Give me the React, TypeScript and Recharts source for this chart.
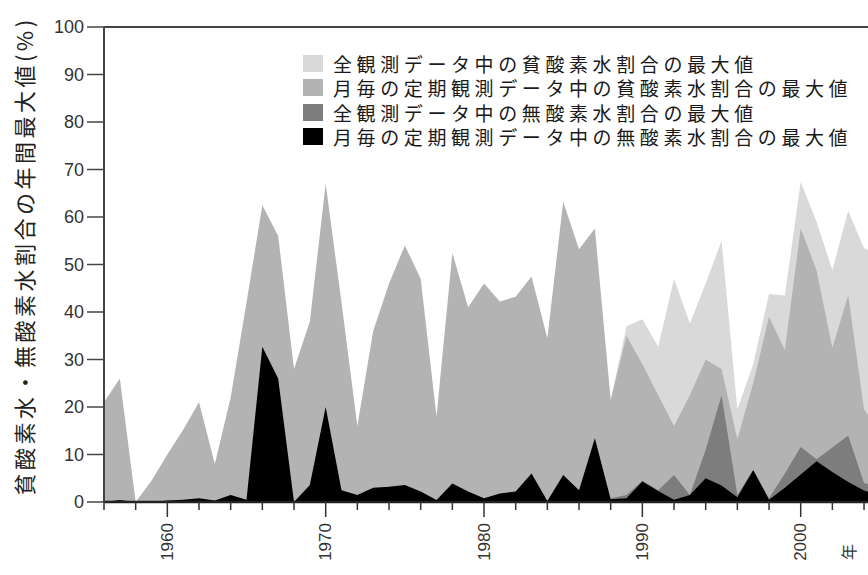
import { AreaChart, Area, XAxis, YAxis, Legend, ReferenceLine, Label } from 'recharts';

const years = [
  1956, 1957, 1958, 1959, 1960, 1961, 1962, 1963, 1964, 1965,
  1966, 1967, 1968, 1969, 1970, 1971, 1972, 1973, 1974, 1975,
  1976, 1977, 1978, 1979, 1980, 1981, 1982, 1983, 1984, 1985,
  1986, 1987, 1988, 1989, 1990, 1991, 1992, 1993, 1994, 1995,
  1996, 1997, 1998, 1999, 2000, 2001, 2002, 2003, 2004, 2005,
];

// 全観測データ中の貧酸素水割合の最大値
const allHypoxic = [
  null, null, null, null, null, null, null, null, null, null,
  null, null, null, null, null, null, null, null, null, null,
  null, null, null, null, null, null, null, null, null, null,
  null, null, 21.5, 37, 38.5, 32.7, 47, 37.6, 46, 55,
  19.5, 29, 43.8, 43.5, 67.4, 59, 48.8, 61.3, 53.4, 52,
];

// 月毎の定期観測データ中の貧酸素水割合の最大値
const monthlyHypoxic = [
  21, 26, 0, 4.5, 10, 15.2, 21, 8, 22, 42,
  62.5, 56, 28, 38, 67, 42, 16, 36, 46, 54,
  47, 18, 52.4, 41, 46, 42.2, 43.2, 47.5, 34.5, 63.2,
  53.2, 57.6, 21.5, 35, 29, 22.5, 16, 22.5, 30, 28,
  13.2, 25, 39, 32, 57.6, 48.8, 32.4, 43.6, 19.5, 15,
];

// 全観測データ中の無酸素水割合の最大値
const allAnoxic = [
  null, null, null, null, null, null, null, null, null, null,
  null, null, null, null, null, null, null, null, null, null,
  null, null, null, null, null, null, null, null, null, null,
  null, null, 0.8, 1.5, 4.5, 2.5, 5.7, 1.5, 11, 22.5,
  1.5, 6.8, 0.8, 6, 11.6, 9, 11.5, 14, 4, 3,
];

// 月毎の定期観測データ中の無酸素水割合の最大値
const monthlyAnoxic = [
  0, 0.4, 0, 0, 0.3, 0.5, 0.8, 0.3, 1.5, 0.5,
  32.7, 26, 0, 3.6, 20, 2.5, 1.5, 3, 3.2, 3.6,
  2.2, 0.4, 3.9, 2.2, 0.8, 1.8, 2.2, 6, 0.2, 5.7,
  2.5, 13.4, 0.6, 0.8, 4.3, 2.3, 0.5, 1.5, 5, 3.5,
  1, 6.7, 0.5, 3, 5.8, 8.6, 6.3, 4.2, 2.4, 1.5,
];

const seriesKeys = ['allHypoxic', 'monthlyHypoxic', 'allAnoxic', 'monthlyAnoxic'];
const seriesNames = [
  '全観測データ中の貧酸素水割合の最大値',
  '月毎の定期観測データ中の貧酸素水割合の最大値',
  '全観測データ中の無酸素水割合の最大値',
  '月毎の定期観測データ中の無酸素水割合の最大値',
];
const seriesColors = ['#d9d9d9', '#b3b3b3', '#7d7d7d', '#000000'];

const yTicks = [0, 10, 20, 30, 40, 50, 60, 70, 80, 90, 100];
const xTicks = [
  1956, 1958, 1960, 1962, 1964, 1966, 1968, 1970, 1972, 1974, 1976, 1978,
  1980, 1982, 1984, 1986, 1988, 1990, 1992, 1994, 1996, 1998, 2000, 2002, 2004,
];

const data = years.map((year, i) => ({
  year,
  allHypoxic: allHypoxic[i],
  monthlyHypoxic: monthlyHypoxic[i],
  allAnoxic: allAnoxic[i],
  monthlyAnoxic: monthlyAnoxic[i],
}));

const latin = '"Liberation Sans", Arial, sans-serif';
const cjk = '"Noto Sans CJK JP", "Noto Sans", sans-serif';

function YearTick(props: any) {
  const { x, y, payload } = props;
  const major = payload.value % 10 === 0;
  const ty = y + 21;
  return (
    <g>
      <line x1={x} x2={x} y1={y} y2={y + (major ? 15 : 8)} stroke="#333" strokeWidth={1.5} />
      {major && (
        <text
          x={x}
          y={ty}
          transform={`rotate(-90 ${x} ${ty})`}
          textAnchor="end"
          dominantBaseline="central"
          fontSize={17}
          fontFamily={latin}
          fill="#333"
        >
          {payload.value}
        </text>
      )}
    </g>
  );
}

function LegendBox() {
  return (
    <div style={{ fontFamily: cjk }}>
      {seriesNames.map((name, i) => (
        <div key={i} style={{ display: 'flex', alignItems: 'center', height: 24.5 }}>
          <span
            style={{
              display: 'inline-block',
              width: 20,
              height: 17,
              background: seriesColors[i],
              marginRight: 10,
            }}
          />
          <span style={{ fontSize: 19, letterSpacing: 4.6, color: '#1a1a1a', whiteSpace: 'nowrap' }}>
            {name}
          </span>
        </div>
      ))}
    </div>
  );
}

export default function App() {
  return (
    <div
      style={{
        position: 'fixed',
        left: 0,
        top: 0,
        width: 868,
        height: 575,
        overflow: 'hidden',
        background: '#fff',
      }}
    >
      <AreaChart
        width={868}
        height={575}
        data={data}
        margin={{ top: 27, right: 0, bottom: 0, left: 44 }}
      >
        <XAxis
          dataKey="year"
          type="number"
          domain={[1956, 2004.25]}
          allowDataOverflow
          ticks={xTicks}
          interval={0}
          height={73}
          tickSize={0}
          tickMargin={0}
          tickLine={false}
          tick={<YearTick />}
          axisLine={{ stroke: '#222', strokeWidth: 2.5 }}
        >
          <Label
            content={() => (
              <text
                x={848}
                y={552}
                transform="rotate(-90 848 552)"
                textAnchor="middle"
                dominantBaseline="central"
                fontSize={16}
                fontFamily={cjk}
                fill="#333"
              >
                年
              </text>
            )}
          />
        </XAxis>
        <YAxis
          type="number"
          domain={[0, 100]}
          ticks={yTicks}
          width={60}
          tickSize={17}
          tickMargin={3}
          tickLine={{ stroke: '#444', strokeWidth: 1.5 }}
          axisLine={{ stroke: '#444', strokeWidth: 2 }}
          tick={{ fontSize: 18, fill: '#333', fontFamily: latin }}
        >
          <Label
            content={() => (
              <text
                x={23}
                y={256}
                transform="rotate(-90 23 256)"
                textAnchor="middle"
                dominantBaseline="central"
                fontSize={22}
                letterSpacing={3.5}
                fontFamily={cjk}
                fill="#222"
              >
                貧酸素水・無酸素水割合の年間最大値(%)
              </text>
            )}
          />
        </YAxis>
        <ReferenceLine y={100} stroke="#444" strokeWidth={2} />
        {seriesKeys.map((key, i) => (
          <Area
            key={key}
            type="linear"
            dataKey={key}
            name={seriesNames[i]}
            stroke="none"
            fill={seriesColors[i]}
            fillOpacity={1}
            isAnimationActive={false}
          />
        ))}
        <Legend
          layout="vertical"
          align="center"
          verticalAlign="middle"
          content={() => <LegendBox />}
          wrapperStyle={{ position: 'absolute', left: 303, top: 51, width: 'auto' }}
        />
      </AreaChart>
    </div>
  );
}
